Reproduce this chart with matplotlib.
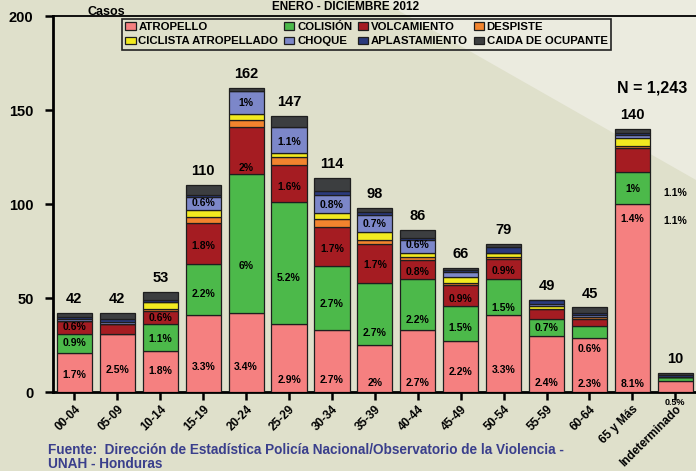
import numpy as np
import matplotlib.pyplot as plt
from matplotlib.patches import Polygon
from matplotlib.transforms import offset_copy

plt.rcParams['font.family'] = ['Liberation Sans', 'DejaVu Sans']
plt.rcParams['font.weight'] = 'bold'

# -------------------------
# Datos
# -------------------------
grupos = ['00-04', '05-09', '10-14', '15-19', '20-24', '25-29', '30-34', '35-39',
          '40-44', '45-49', '50-54', '55-59', '60-64', '65 y Más', 'Indeterminado']
totales = [42, 42, 53, 110, 162, 147, 114, 98, 86, 66, 79, 49, 45, 140, 10]

atropello     = [21, 31, 22, 41, 42, 36, 33, 25, 33, 27, 41, 30, 29, 100, 6]
colision      = [10, 0, 14, 27, 74, 65, 34, 33, 27, 19, 19, 9, 6, 17, 2]
volcamiento   = [7, 5, 7, 22, 25, 20, 21, 21, 10, 11, 11, 5, 4, 13, 0]
despiste      = [0, 0, 1, 3, 4, 4, 4, 2, 2, 1, 1, 0, 1, 1, 0]
ciclista      = [0, 0, 4, 4, 3, 2, 3, 4, 2, 3, 2, 2, 0, 4, 0]
choque        = [1, 1, 0, 7, 12, 14, 10, 9, 7, 3, 0, 1, 1, 2, 0]
aplastamiento = [1, 2, 1, 1, 0, 0, 2, 2, 1, 1, 3, 2, 1, 1, 1]
caida         = [2, 3, 4, 5, 2, 6, 7, 2, 4, 1, 2, 0, 3, 2, 1]

series = [atropello, colision, volcamiento, despiste, ciclista, choque, aplastamiento, caida]
nombres = ['ATROPELLO', 'COLISIÓN', 'VOLCAMIENTO', 'DESPISTE',
           'CICLISTA ATROPELLADO', 'CHOQUE', 'APLASTAMIENTO', 'CAIDA DE OCUPANTE']
colores = ['#F58080', '#4CB94A', '#A51C22', '#F2842E',
           '#F2EA20', '#7C87C9', '#2A3A7D', '#3C3E40']

# porcentajes: (grupo, serie, texto, posicion relativa dentro del segmento)
etiquetas = [
    (0, 0, '1.7%', 0.43), (0, 1, '0.9%', 0.5), (0, 2, '0.6%', 0.5),
    (1, 0, '2.5%', 0.38),
    (2, 0, '1.8%', 0.5), (2, 1, '1.1%', 0.45), (2, 2, '0.6%', 0.5),
    (3, 0, '3.3%', 0.33), (3, 1, '2.2%', 0.41), (3, 2, '1.8%', 0.45), (3, 5, '0.6%', 0.5),
    (4, 0, '3.4%', 0.32), (4, 1, '6%', 0.34), (4, 2, '2%', 0.12), (4, 5, '1%', 0.5),
    (5, 0, '2.9%', 0.18), (5, 1, '5.2%', 0.38), (5, 2, '1.6%', 0.4), (5, 5, '1.1%', 0.45),
    (6, 0, '2.7%', 0.2), (6, 1, '2.7%', 0.41), (6, 2, '1.7%', 0.43), (6, 5, '0.8%', 0.45),
    (7, 0, '2%', 0.19), (7, 1, '2.7%', 0.2), (7, 2, '1.7%', 0.45), (7, 5, '0.7%', 0.5),
    (8, 0, '2.7%', 0.15), (8, 1, '2.2%', 0.2), (8, 2, '0.8%', 0.4), (8, 5, '0.6%', 0.6),
    (9, 0, '2.2%', 0.4), (9, 1, '1.5%', 0.37), (9, 2, '0.9%', 0.3),
    (10, 0, '3.3%', 0.29), (10, 1, '1.5%', 0.2), (10, 2, '0.9%', 0.4),
    (11, 0, '2.4%', 0.16), (11, 1, '0.7%', 0.45),
    (12, 0, '2.3%', 0.15), (12, 0, '0.6%', 0.79),
    (13, 0, '8.1%', 0.04), (13, 0, '1.4%', 0.92), (13, 1, '1%', 0.47),
]
# etiquetas sueltas junto a las dos ultimas barras
sueltas = [(14, 106, '1.1%'), (14, 91, '1.1%'), (14, -5.5, '0.5%')]

# -------------------------
# Figura
# -------------------------
fondo = '#DFE0CB'
fig = plt.figure(figsize=(6.96, 4.71), dpi=100, facecolor=fondo)

# fondo con la franja clara en diagonal
ax_bg = fig.add_axes([0, 0, 1, 1], zorder=-1)
ax_bg.set_xlim(0, 1)
ax_bg.set_ylim(0, 1)
ax_bg.axis('off')
ax_bg.add_patch(Polygon([[0.546, 1.0], [1.0, 1.0], [1.0, 0.618]], closed=True,
                        facecolor='#EBEBDF', edgecolor='none'))

ax = fig.add_axes([0.0761, 0.1677, 0.925, 0.798])
ax.set_facecolor('none')

x = np.arange(len(grupos))
ancho = 0.82
base = np.zeros(len(grupos))
for vals, nom, col in zip(series, nombres, colores):
    vals = np.array(vals, dtype=float)
    ax.bar(x, vals, ancho, bottom=base, color=col, edgecolor='#1E1E1E',
           linewidth=0.9, label=nom, zorder=3)
    base += vals

bottoms = np.cumsum([np.zeros(len(grupos))] + [np.array(s) for s in series], axis=0)
for g, s, txt, fr in etiquetas:
    y = bottoms[s][g] + fr * series[s][g]
    ax.text(x[g], y, txt, ha='center', va='center', fontsize=7.5, zorder=5)
for g, y, txt in sueltas:
    ax.text(x[g], y, txt, ha='center', va='center', fontsize=6.5 if y < 0 else 7.5,
            zorder=5, clip_on=False)

for xi, t in zip(x, totales):
    ax.annotate(str(t), (xi, t), xytext=(0, 5), textcoords='offset points',
                ha='center', va='bottom', fontsize=10.5)

ax.set_xlim(-0.5, len(grupos) - 0.5)
ax.set_ylim(0, 200)
ax.set_yticks([0, 50, 100, 150, 200])
ax.set_xticks(x)
ax.set_xticklabels(grupos, rotation=45, ha='right', rotation_mode='anchor', fontsize=8.5)
for lab in ax.get_xticklabels():
    lab.set_transform(offset_copy(lab.get_transform(), fig=fig, x=9, y=-2, units='dots'))
ax.tick_params(axis='y', labelsize=10.5, length=6, width=1.8, direction='out', pad=8)
ax.tick_params(axis='x', length=6, width=1.8, direction='out', pad=2)

ax.spines['left'].set_linewidth(2)
ax.spines['bottom'].set_linewidth(2)
ax.spines['top'].set_linewidth(1.3)
ax.spines['right'].set_visible(False)

# leyenda (orden por columnas para obtener dos filas)
h, l = ax.get_legend_handles_labels()
orden = [0, 4, 1, 5, 2, 6, 3, 7]
leg = ax.legend([h[i] for i in orden], [l[i] for i in orden], ncol=4,
                loc='center', bbox_to_anchor=(0.487, 0.952), fontsize=8.2,
                frameon=True, fancybox=False, handlelength=0.9, handleheight=0.7,
                handletextpad=0.25, columnspacing=0.5, labelspacing=0.4,
                borderpad=0.3, borderaxespad=0)
frame = leg.get_frame()
frame.set_facecolor('none')
frame.set_edgecolor('#222222')
frame.set_alpha(None)
frame.set_linewidth(1.2)
leg.set_zorder(6)

fig.text(0.496, 0.985, 'ENERO - DICIEMBRE 2012', ha='center', va='center', fontsize=8.5)
fig.text(0.126, 0.974, 'Casos', ha='left', va='center', fontsize=9)
fig.text(0.937, 0.813, 'N = 1,243', ha='center', va='center', fontsize=11.5)
fig.text(0.069, 0.045, 'Fuente:  Dirección de Estadística Policía Nacional/Observatorio de la Violencia -',
         ha='left', va='center', fontsize=9.8, color='#3A3F8C')
fig.text(0.069, 0.015, 'UNAH - Honduras', ha='left', va='center', fontsize=9.8, color='#3A3F8C')

fig.savefig('out.png', dpi=100, facecolor=fondo)
